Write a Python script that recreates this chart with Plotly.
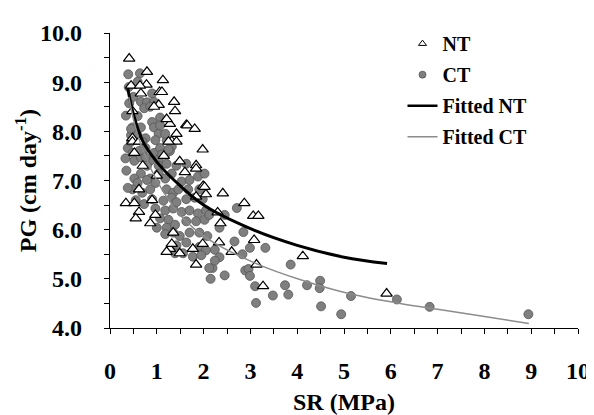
import plotly.graph_objects as go

# NT (no-till) observations: soil resistance (MPa) vs plant growth (cm/day)
nt_sr = [0.41, 0.79, 1.13, 0.78, 0.45, 0.64, 1.06, 0.66, 1.11, 1.37, 1.04, 0.94, 1.39, 0.48,
         1.28, 1.63, 1.65, 1.81, 1.21, 1.42, 1.32, 1.42, 0.48, 0.48, 0.62, 1.25, 1.98, 0.52,
         1.49, 1.84, 1.84, 1.60, 1.99, 2.05, 2.41, 1.84, 2.87, 3.06, 3.17, 2.36, 2.33, 3.08,
         3.13, 4.12, 3.27, 5.91, 0.34, 0.52, 0.62, 0.55, 0.86, 0.97, 0.62, 1.28, 1.35, 1.21,
         1.32, 1.84, 1.77, 1.98, 1.49, 2.02, 1.00, 0.70, 1.15, 0.90, 2.60, 2.30]
nt_pg = [9.48, 9.21, 9.04, 8.95, 8.93, 8.93, 8.80, 8.77, 8.80, 8.60, 8.54, 8.50, 8.41, 8.41,
         8.15, 8.13, 8.12, 8.05, 8.25, 7.95, 7.80, 7.79, 7.86, 7.79, 7.79, 7.79, 7.63, 7.56,
         7.39, 7.31, 7.24, 7.17, 6.89, 6.72, 6.74, 6.67, 6.54, 6.28, 6.28, 6.13, 5.74, 5.79,
         5.29, 5.46, 4.85, 4.70, 6.54, 6.54, 6.36, 6.23, 6.13, 6.30, 6.82, 5.61, 5.94, 5.55,
         5.71, 5.29, 5.61, 5.71, 5.52, 6.87, 7.10, 7.30, 7.50, 6.60, 5.55, 6.35]

# CT (conventional tillage) observations
ct_sr = [0.39, 0.64, 0.59, 0.90, 0.41, 0.66, 0.79, 0.94, 0.73, 0.86, 0.34, 1.07, 0.90, 0.48,
         0.66, 0.45, 0.59, 0.76, 0.94, 1.04, 1.21, 1.32, 0.38, 0.48, 0.76, 0.94, 1.07, 1.28,
         0.52, 0.66, 0.86, 1.04, 1.18, 0.59, 0.45, 1.07, 1.18, 0.69, 0.97, 0.45, 0.76, 1.11,
         1.25, 0.79, 1.04, 1.21, 1.42, 0.66, 0.86, 1.04, 1.18, 1.32, 0.52, 0.59, 0.97, 0.79,
         0.48, 0.69, 0.86, 1.21, 1.35, 0.73, 0.90, 1.14, 1.32, 0.97, 1.18, 1.35, 1.07, 1.25,
         1.00, 1.21, 1.39, 1.18, 1.35, 1.63, 1.53, 1.70, 1.88, 2.02, 1.46, 1.67, 1.91, 1.42,
         1.63, 1.81, 1.98, 1.53, 1.70, 1.88, 2.05, 1.63, 1.84, 2.02, 1.49, 1.70, 1.91, 2.08,
         1.42, 1.63, 1.91, 2.05, 1.39, 1.56, 1.77, 1.95, 2.19, 2.71, 2.45, 2.12, 2.34, 2.85,
         2.66, 2.99, 3.32, 2.24, 2.34, 2.24, 2.83, 2.12, 3.86, 2.89, 2.96, 2.99, 2.45, 2.15,
         3.10, 3.48, 3.74, 3.81, 3.12, 4.21, 4.49, 4.48, 4.51, 4.94, 5.15, 6.13, 6.83, 8.94,
         0.40, 0.35, 0.55, 0.62, 0.50, 0.33, 0.38]
ct_pg = [9.16, 9.18, 9.01, 8.77, 8.57, 8.60, 8.59, 8.60, 8.47, 8.50, 8.32, 8.28, 8.19, 8.08,
         8.08, 7.92, 7.92, 7.86, 8.08, 7.95, 7.82, 7.69, 7.66, 7.56, 7.66, 7.56, 7.66, 7.60,
         7.40, 7.47, 7.40, 7.43, 7.53, 8.31, 8.05, 8.12, 7.95, 7.79, 7.82, 7.79, 7.47, 7.53,
         7.63, 7.30, 7.30, 7.34, 7.30, 7.14, 7.04, 7.14, 7.04, 7.14, 7.04, 6.95, 6.95, 7.01,
         6.82, 6.75, 6.82, 6.82, 6.75, 6.52, 6.62, 6.59, 6.65, 6.43, 6.39, 6.43, 6.23, 6.20,
         6.04, 6.04, 6.10, 5.91, 5.94, 7.34, 6.98, 7.01, 7.08, 7.14, 6.82, 6.82, 6.82, 6.56,
         6.62, 6.65, 6.62, 6.36, 6.39, 6.33, 6.39, 6.17, 6.17, 6.20, 5.87, 5.94, 5.94, 5.87,
         5.68, 5.74, 5.65, 5.58, 5.52, 5.52, 5.45, 5.48, 5.22, 6.44, 6.30, 6.30, 6.04, 5.95,
         5.76, 5.63, 5.63, 5.59, 5.44, 5.37, 5.50, 5.22, 5.29, 5.17, 5.20, 5.06, 5.07, 5.00,
         4.85, 4.66, 4.87, 4.68, 4.51, 4.87, 4.96, 4.81, 4.44, 4.28, 4.65, 4.58, 4.43, 4.28,
         8.90, 7.20, 6.60, 7.60, 8.70, 7.45, 6.85]

# fitted curves, points
fit_nt_sr = [0.38, 0.5, 0.7, 1.0, 1.4, 2.0, 3.0, 4.0, 5.0, 5.92]
fit_nt_pg = [8.87, 8.35, 7.80, 7.38, 6.98, 6.50, 6.02, 5.68, 5.44, 5.31]
fit_ct_sr = [0.4, 0.6, 1.0, 1.5, 2.05, 3.1, 4.14, 5.19, 6.2, 7.0, 7.9, 8.95]
fit_ct_pg = [8.70, 7.90, 7.00, 6.30, 5.84, 5.32, 4.96, 4.68, 4.50, 4.38, 4.25, 4.09]

# axis ticks
x_ticks = list(range(0, 11))
y_ticks = [4, 5, 6, 7, 8, 9, 10]

FONT = "Liberation Serif"

fig = go.Figure()

fig.add_trace(go.Scatter(
    x=ct_sr, y=ct_pg, mode="markers", showlegend=False,
    marker=dict(symbol="circle", size=9, color="#7f7f7f",
                line=dict(color="#555555", width=0.8)),
))
fig.add_trace(go.Scatter(
    x=nt_sr, y=nt_pg, mode="markers", showlegend=False,
    marker=dict(symbol="triangle-up", size=10, color="white",
                line=dict(color="black", width=1.2)),
))
fig.add_trace(go.Scatter(
    x=fit_nt_sr, y=fit_nt_pg, mode="lines", showlegend=False,
    line=dict(color="black", width=3, shape="spline"),
))
fig.add_trace(go.Scatter(
    x=fit_ct_sr, y=fit_ct_pg, mode="lines", showlegend=False,
    line=dict(color="#8c8c8c", width=1.5, shape="spline"),
))

# legend-only entries (smaller symbols than the plotted markers)
fig.add_trace(go.Scatter(x=[None], y=[None], mode="markers", name="<b>NT</b>",
                         legendgroup="a",
                         marker=dict(symbol="triangle-up-open", size=7, color="black",
                                     line=dict(width=1))))
fig.add_trace(go.Scatter(x=[None], y=[None], mode="markers", name="<b>CT</b>",
                         legendgroup="b",
                         marker=dict(symbol="circle", size=7, color="#7f7f7f",
                                     line=dict(color="#555555", width=0.8))))
fig.add_trace(go.Scatter(x=[None], y=[None], mode="lines", name="<b>Fitted NT</b>",
                         legendgroup="c",
                         line=dict(color="black", width=2.5)))
fig.add_trace(go.Scatter(x=[None], y=[None], mode="lines", name="<b>Fitted CT</b>",
                         legendgroup="d",
                         line=dict(color="#8c8c8c", width=1.5)))

tick_common = dict(
    showline=True, linecolor="black", linewidth=1.3, mirror=False,
    ticks="outside", ticklen=5, tickwidth=1.2, tickcolor="black",
    showgrid=False, zeroline=False,
    tickfont=dict(family=FONT, size=24, color="black"),
)

fig.update_xaxes(
    range=[0, 10],
    tickvals=x_ticks, ticktext=[f"<b>{v}</b>" for v in x_ticks],
    minor=dict(dtick=0.5, ticks="outside", ticklen=5, tickwidth=1.2, tickcolor="black"),
    ticklabelstandoff=16,
    title=dict(text="<b>SR (MPa)</b>", standoff=10,
               font=dict(family=FONT, size=24, color="black")),
    **tick_common,
)
fig.update_yaxes(
    range=[4, 10],
    tickvals=y_ticks, ticktext=[f"<b>{v:.1f}</b>" for v in y_ticks],
    minor=dict(dtick=0.5, ticks="outside", ticklen=5, tickwidth=1.2, tickcolor="black"),
    ticklabelstandoff=17,
    **tick_common,
)

fig.add_annotation(
    text="<b>PG (cm day<sup>-1</sup>)</b>", textangle=-90,
    xref="paper", yref="paper", x=-0.18, y=0.5,
    xanchor="center", yanchor="middle", showarrow=False,
    font=dict(family=FONT, size=24, color="black"),
)

fig.update_layout(
    width=594, height=415,
    margin=dict(l=102, r=13, t=20, b=87),
    paper_bgcolor="white", plot_bgcolor="white",
    font=dict(family=FONT, color="black"),
    legend=dict(
        x=0.625, y=1.03, xanchor="left", yanchor="top",
        bgcolor="rgba(0,0,0,0)", borderwidth=0,
        font=dict(family=FONT, size=20, color="black"),
        itemwidth=30, tracegroupgap=2,
    ),
)

fig.write_html("out.html")
